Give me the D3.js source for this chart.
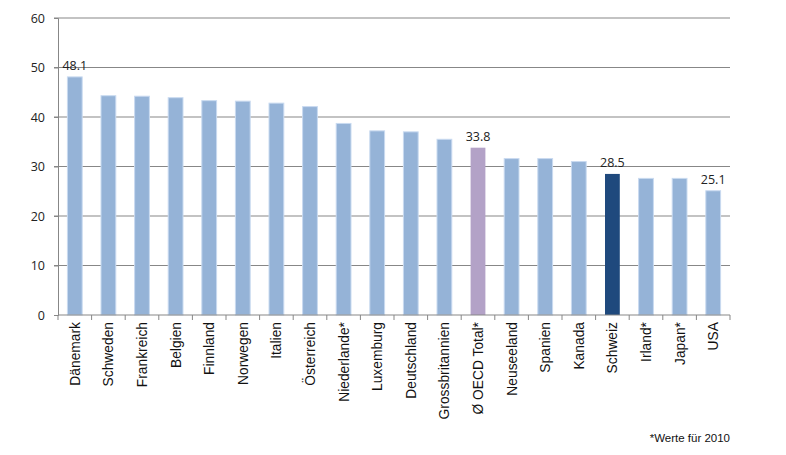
<!DOCTYPE html>
<html>
<head>
<meta charset="utf-8">
<script src="https://cdn.jsdelivr.net/npm/d3@7"></script>
<style>
  body { margin: 0; background: #fff; }
  svg { display: block; }
</style>
</head>
<body>
<script>
  const width = 786;
  const height = 455;

  // Categories and values
  const countries = [
    "Dänemark", "Schweden", "Frankreich", "Belgien", "Finnland", "Norwegen",
    "Italien", "Österreich", "Niederlande*", "Luxemburg", "Deutschland",
    "Grossbritannien", "Ø OECD Total*", "Neuseeland", "Spanien", "Kanada",
    "Schweiz", "Irland*", "Japan*", "USA"
  ];
  const values = [
    48.1, 44.3, 44.2, 43.9, 43.3, 43.2,
    42.8, 42.1, 38.7, 37.2, 37.0,
    35.5, 33.8, 31.6, 31.6, 31.0,
    28.5, 27.6, 27.6, 25.1
  ];
  const labelled = ["Dänemark", "Ø OECD Total*", "Schweiz", "USA"];
  const yTicks = [0, 10, 20, 30, 40, 50, 60];
  const footnote = "*Werte für 2010";

  const margin = { top: 18, right: 56, bottom: 140, left: 58 };
  const innerW = width - margin.left - margin.right;
  const innerH = height - margin.top - margin.bottom;

  const svg = d3.select("body").append("svg")
    .attr("width", width)
    .attr("height", height);

  const g = svg.append("g")
    .attr("transform", `translate(${margin.left},${margin.top})`);

  const x = d3.scaleBand().domain(countries).range([0, innerW])
    .paddingInner(0.56).paddingOuter(0.28);
  const y = d3.scaleLinear().domain([0, 60]).range([innerH, 0]);

  // gridlines
  g.append("g")
    .selectAll("line")
    .data(yTicks.filter(d => d > 0))
    .enter().append("line")
    .attr("x1", -4).attr("x2", innerW)
    .attr("y1", d => y(d)).attr("y2", d => y(d))
    .attr("stroke", "#878787").attr("stroke-width", 1);

  // y axis
  const yAxis = g.append("g")
    .call(d3.axisLeft(y).tickValues(yTicks).tickSize(4).tickPadding(9));
  yAxis.select(".domain").attr("stroke", "#878787");
  yAxis.selectAll(".tick line").attr("stroke", "#878787");
  yAxis.selectAll("text")
    .attr("font-family", "'Open Sans', sans-serif")
    .attr("font-size", 12.5)
    .attr("fill", "#222");

  const colorOf = d => d === "Ø OECD Total*" ? "#b3a2c7"
    : d === "Schweiz" ? "#1f497d" : "#95b3d7";

  // bars
  g.append("g")
    .selectAll("rect")
    .data(countries)
    .enter().append("rect")
    .attr("x", d => x(d))
    .attr("y", (d, i) => y(values[i]))
    .attr("width", x.bandwidth())
    .attr("height", (d, i) => innerH - y(values[i]))
    .attr("fill", colorOf)
    .attr("stroke", d => colorOf(d) === "#95b3d7" ? "#c9daf0" : "none")
    .attr("stroke-width", 1);

  // x axis with ticks between categories
  const step = x.step();
  const xAxisG = g.append("g").attr("transform", `translate(0,${innerH})`);
  xAxisG.append("line")
    .attr("x1", 0).attr("x2", innerW)
    .attr("stroke", "#878787");
  xAxisG.selectAll(".sep")
    .data(d3.range(countries.length + 1))
    .enter().append("line")
    .attr("x1", i => i * innerW / countries.length)
    .attr("x2", i => i * innerW / countries.length)
    .attr("y1", 0).attr("y2", 5)
    .attr("stroke", "#878787");

  xAxisG.selectAll(".lbl")
    .data(countries)
    .enter().append("text")
    .attr("transform", d => `translate(${x(d) + x.bandwidth() / 2 + 5},7) rotate(-90)`)
    .attr("text-anchor", "end")
    .attr("font-family", "'Liberation Sans', Arial, sans-serif")
    .attr("font-size", 13.8)
    .attr("fill", "#111")
    .text(d => d);

  // value labels
  g.append("g")
    .selectAll("text")
    .data(countries.filter(d => labelled.includes(d)))
    .enter().append("text")
    .attr("x", d => x(d) + x.bandwidth() / 2)
    .attr("y", d => y(values[countries.indexOf(d)]) - 7)
    .attr("text-anchor", "middle")
    .attr("font-family", "'Open Sans', sans-serif")
    .attr("font-size", 12.5)
    .attr("fill", "#222")
    .text(d => values[countries.indexOf(d)].toFixed(1));

  // footnote
  svg.append("text")
    .attr("x", margin.left + innerW)
    .attr("y", 442)
    .attr("text-anchor", "end")
    .attr("font-family", "'Liberation Sans', Arial, sans-serif")
    .attr("font-size", 11.5)
    .attr("fill", "#111")
    .text(footnote);
</script>
</body>
</html>
